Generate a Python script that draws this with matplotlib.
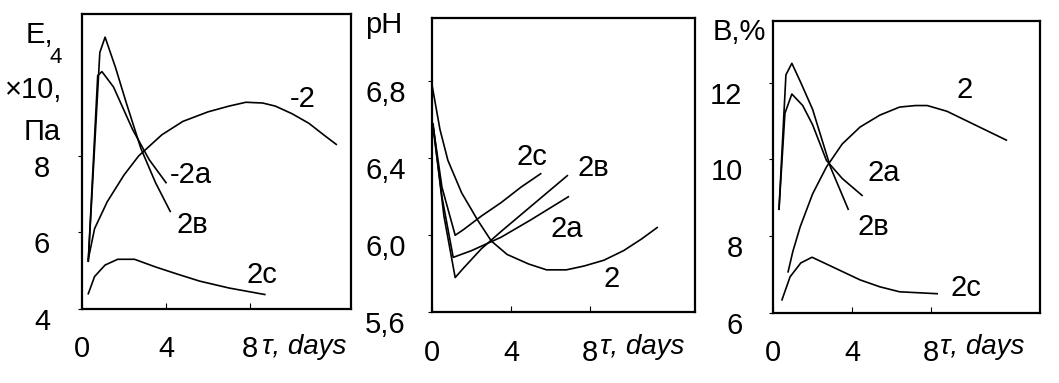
import matplotlib.pyplot as plt
from matplotlib.transforms import ScaledTranslation

# --- panel 1: modulus E, x10^4 Pa ---
e2_t = [0.3, 0.6, 1.2, 2.0, 2.7, 3.8, 4.8, 6.0, 7.0, 7.8, 8.6, 9.2, 10.0, 10.8, 11.5, 12.1]
e2_v = [5.3, 6.1, 6.8, 7.5, 8.0, 8.55, 8.9, 9.15, 9.3, 9.4, 9.38, 9.3, 9.1, 8.85, 8.55, 8.3]
e2a_t = [0.3, 0.75, 0.95, 1.5, 2.4, 3.2, 4.0]
e2a_v = [5.25, 10.1, 10.2, 9.8, 8.7, 7.9, 7.3]
e2b_t = [0.3, 0.85, 1.1, 1.6, 2.1, 2.8, 3.5, 4.2]
e2b_v = [5.25, 10.7, 11.1, 10.3, 9.4, 8.2, 7.3, 6.55]
e2c_t = [0.3, 0.6, 1.1, 1.7, 2.5, 3.5, 4.5, 5.6, 7.0, 8.7]
e2c_v = [4.4, 4.85, 5.15, 5.3, 5.3, 5.1, 4.92, 4.73, 4.55, 4.38]

# --- panel 2: pH ---
p2_t = [0.0, 0.4, 0.8, 1.5, 2.3, 3.0, 3.8, 4.9, 5.8, 6.8, 7.7, 8.7, 9.7, 10.6, 11.4]
p2_v = [6.78, 6.55, 6.39, 6.22, 6.08, 5.97, 5.9, 5.85, 5.82, 5.82, 5.84, 5.87, 5.92, 5.98, 6.04]
p2a_t = [0.05, 0.5, 1.07, 2.0, 3.5, 5.0, 6.9]
p2a_v = [6.56, 6.2, 5.885, 5.92, 5.99, 6.08, 6.2]
p2b_t = [0.05, 0.6, 1.17, 1.6, 2.5, 3.5, 5.0, 6.85]
p2b_v = [6.58, 6.1, 5.78, 5.83, 5.93, 6.02, 6.15, 6.31]
p2c_t = [0.05, 0.5, 1.17, 1.6, 2.5, 3.5, 4.5, 5.5]
p2c_v = [6.57, 6.25, 6.0, 6.03, 6.1, 6.17, 6.25, 6.32]

# --- panel 3: B, % ---
b2_t = [0.76, 1.0, 1.37, 2.0, 2.7, 3.5, 4.4, 5.4, 6.4, 7.2, 7.8, 8.8, 9.8, 10.8, 11.8]
b2_v = [7.07, 7.6, 8.24, 9.1, 9.8, 10.4, 10.84, 11.15, 11.36, 11.4, 11.4, 11.25, 11.0, 10.75, 10.5]
b2a_t = [0.3, 0.6, 0.95, 1.5, 2.0, 2.7, 3.5, 4.5]
b2a_v = [8.7, 11.2, 11.7, 11.4, 10.9, 9.97, 9.5, 9.06]
b2b_t = [0.3, 0.65, 0.95, 1.4, 2.0, 2.9, 3.8]
b2b_v = [8.7, 12.2, 12.5, 12.0, 11.3, 9.8, 8.7]
b2c_t = [0.45, 0.86, 1.4, 1.97, 3.0, 4.4, 5.4, 6.4, 8.3]
b2c_v = [6.34, 6.94, 7.3, 7.45, 7.2, 6.86, 6.68, 6.55, 6.5]

plt.rcParams['font.family'] = ['Liberation Sans', 'DejaVu Sans']
lw = 1.2
fs = 21

fig = plt.figure(figsize=(10.59, 3.83), dpi=100)
shift = ScaledTranslation(0, -0.1, fig.dpi_scale_trans)


def setup(ax, xlim, ylim, yticks, ylabels, ypad):
    ax.set_xlim(*xlim)
    ax.set_ylim(*ylim)
    ax.set_xticks([0, 4, 8])
    ax.set_xticklabels(['0', '4', '8'])
    ax.set_yticks(yticks)
    ax.set_yticklabels(ylabels)
    for s in ax.spines.values():
        s.set_linewidth(1.6)
    ax.tick_params(axis='y', direction='out', length=3, pad=ypad, labelsize=fs)
    ax.tick_params(axis='x', direction='in', length=4, pad=19, labelsize=fs)
    # hand-drawn labels sit a little below their ticks
    for lab in ax.get_yticklabels():
        lab.set_transform(lab.get_transform() + shift)


# panel 1
ax1 = fig.add_axes([0.0774, 0.193, 0.254, 0.770])
for t, v in [(e2_t, e2_v), (e2a_t, e2a_v), (e2b_t, e2b_v), (e2c_t, e2c_v)]:
    ax1.plot(t, v, color='black', lw=lw)
setup(ax1, (0, 12.8), (4, 11.7), [4, 6, 8], ['4', '6', '8'], 20)
ax1.text(9.9, 9.48, '-2', fontsize=fs, va='center')
ax1.text(4.2, 7.5, '-2a', fontsize=fs, va='center')
ax1.text(4.5, 6.2, '2в', fontsize=fs, va='center')
ax1.text(7.85, 4.9, '2c', fontsize=fs, va='center')
fig.text(0.247, 0.094, 'τ, days', fontsize=20, style='italic', va='center')
fig.text(0.024, 0.909, 'E,', fontsize=fs, va='center')
fig.text(0.047, 0.851, '4', fontsize=16, va='center')
fig.text(0.005, 0.765, '×10,', fontsize=fs, va='center')
fig.text(0.022, 0.655, 'Па', fontsize=fs, va='center')

# panel 2
ax2 = fig.add_axes([0.408, 0.185, 0.248, 0.768])
for t, v in [(p2_t, p2_v), (p2a_t, p2a_v), (p2b_t, p2b_v), (p2c_t, p2c_v)]:
    ax2.plot(t, v, color='black', lw=lw)
setup(ax2, (0, 13.3), (5.6, 7.13), [5.6, 6.0, 6.4, 6.8], ['5,6', '6,0', '6,4', '6,8'], 16)
ax2.text(4.3, 6.405, '2c', fontsize=fs, va='center')
ax2.text(7.36, 6.35, '2в', fontsize=fs, va='center')
ax2.text(6.0, 6.03, '2a', fontsize=fs, va='center')
ax2.text(8.7, 5.77, '2', fontsize=fs, va='center')
fig.text(0.567, 0.094, 'τ, days', fontsize=20, style='italic', va='center')
fig.text(0.345, 0.935, 'pH', fontsize=fs, va='center')

# panel 3
ax3 = fig.add_axes([0.730, 0.183, 0.252, 0.762])
for t, v in [(b2_t, b2_v), (b2a_t, b2a_v), (b2b_t, b2b_v), (b2c_t, b2c_v)]:
    ax3.plot(t, v, color='black', lw=lw)
setup(ax3, (0, 13.5), (6, 13.6), [6, 8, 10, 12], ['6', '8', '10', '12'], 19)
ax3.text(9.3, 11.8, '2', fontsize=fs, va='center')
ax3.text(4.8, 9.64, '2a', fontsize=fs, va='center')
ax3.text(4.25, 8.23, '2в', fontsize=fs, va='center')
ax3.text(9.0, 6.65, '2c', fontsize=fs, va='center')
fig.text(0.888, 0.094, 'τ, days', fontsize=20, style='italic', va='center')
fig.text(0.673, 0.916, 'B,%', fontsize=fs, va='center')

fig.savefig('out.png', dpi=100)
